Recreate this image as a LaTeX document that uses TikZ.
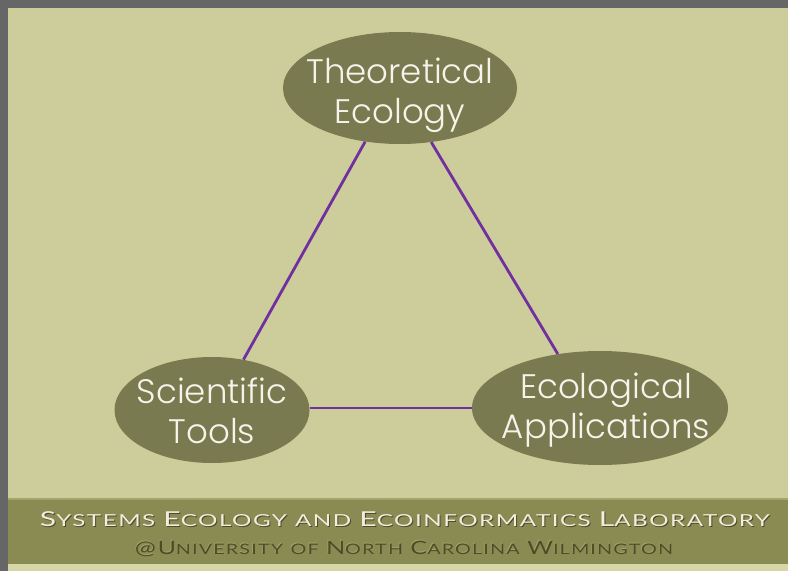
\documentclass[tikz,border=0pt]{standalone}
\usepackage{fontspec}
\usepackage{graphicx}
\setmainfont{Poppins Light}
\newfontfamily\bandfont{Lato}[LetterSpace=6]
\usetikzlibrary{shapes.geometric}
\definecolor{frame}{HTML}{666666}
\definecolor{khaki}{HTML}{CDCD9C}
\definecolor{khakilight}{HTML}{D6D6A8}
\definecolor{olive}{HTML}{7A7A50}
\definecolor{band}{HTML}{898B52}
\definecolor{bandhi}{HTML}{A3A56C}
\definecolor{purp}{HTML}{7030A0}
\definecolor{txt}{HTML}{F4F4EA}
\definecolor{bandtxtc}{HTML}{F0EEDC}
\definecolor{shadowc}{HTML}{4A4A2C}
\definecolor{darktxt}{HTML}{4C4D28}
\newcommand{\fsc}[2]{{\fontsize{20.5}{20.5}\selectfont #1}{\fontsize{16.5}{16.5}\selectfont #2}}
\newcommand{\ssc}[2]{{\fontsize{18.5}{18.5}\selectfont #1}{\fontsize{14.5}{14.5}\selectfont #2}}
\newcommand{\wsp}{\hspace{0.55em}}
\newcommand{\lineone}{\resizebox{730pt}{\height}{\bandfont\fsc{S}{YSTEMS}\wsp\fsc{E}{COLOGY}\wsp\fsc{}{AND}\wsp\fsc{E}{COINFORMATICS}\wsp\fsc{L}{ABORATORY}}}
\newcommand{\linetwo}{\resizebox{538pt}{\height}{\bandfont\ssc{@U}{NIVERSITY}\wsp\ssc{}{OF}\wsp\ssc{N}{ORTH}\wsp\ssc{C}{AROLINA}\wsp\ssc{W}{ILMINGTON}}}
\tikzset{
  blob/.style={ellipse, fill=olive, draw=none, inner sep=0pt},
  lbl/.style={text=txt, align=center, inner sep=0pt, font=\fontsize{34}{40}\selectfont},
  link/.style={draw=purp, line width=2.8pt},
  bandtxt/.style={inner sep=0pt, anchor=base}
}
\begin{document}
\begin{tikzpicture}[x=1pt,y=-1pt]
\useasboundingbox (0,0) rectangle (788,571);
\fill[frame] (0,0) rectangle (788,571);
\fill[khaki] (8,8) rectangle (788,571);
\fill[khakilight] (8,564) rectangle (788,571);
\fill[band] (8,498) rectangle (788,564);
\fill[bandhi] (8,498) rectangle (788,500);
\node[blob, minimum width=234pt, minimum height=112pt] (te) at (400,88) {};
\node[blob, minimum width=195pt, minimum height=106pt] (st) at (212,410) {};
\node[blob, minimum width=256pt, minimum height=114pt] (ea) at (600,408) {};
\node[lbl, yshift=-7pt] (tel) at (te) {Theoretical\\Ecology};
\node[lbl, yshift=-1pt] (stl) at (st) {Scientific\\Tools};
\node[lbl, xshift=6pt, yshift=-2pt] (eal) at (ea) {Ecological\\Applications};
\draw[link] (te.237.5) -- (st.58.3);
\draw[link] (te.300.2) -- (ea.128.7);
\draw[link] (st.east |- ea.west) -- (ea.west);
\node[bandtxt, text=shadowc] (l1s) at (406,527) {\lineone};
\node[bandtxt, text=bandtxtc] (l1) at (405,526) {\lineone};
\node[bandtxt, text=bandhi] (l2s) at (403.4,553.4) {\linetwo};
\node[bandtxt, text=darktxt] (l2) at (404,554) {\linetwo};
\end{tikzpicture}
\end{document}
